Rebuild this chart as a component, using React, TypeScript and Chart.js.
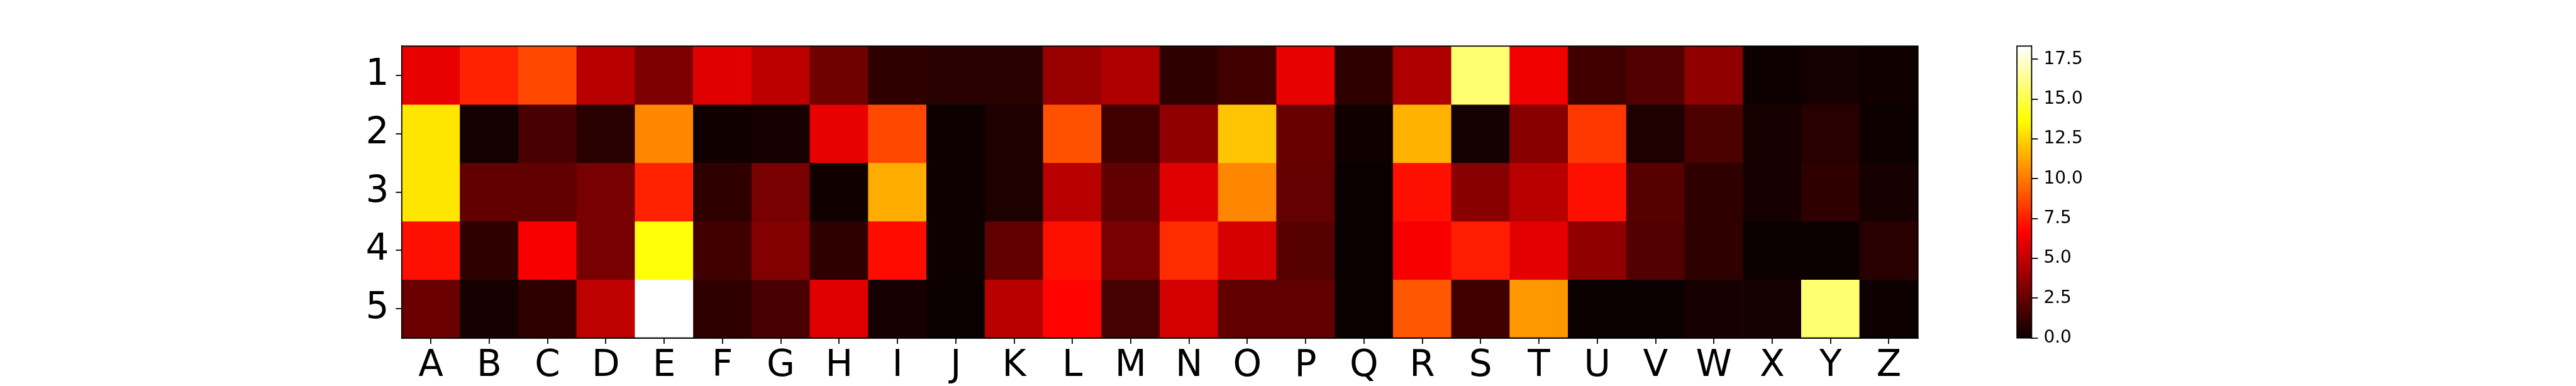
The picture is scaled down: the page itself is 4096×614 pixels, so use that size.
import React, { useEffect, useRef } from "react";
import { Chart, registerables } from "chart.js";

Chart.register(...registerables);

// ---- data ----
const xLabels = ["A", "B", "C", "D", "E", "F", "G", "H", "I", "J", "K", "L", "M", "N", "O", "P", "Q", "R", "S", "T", "U", "V", "W", "X", "Y", "Z"];
const rowLabels = ["1", "2", "3", "4", "5"];
const row1 = [6.1, 7.6, 8.7, 4.75, 3.2, 5.85, 4.85, 2.8, 1.0, 0.8, 0.8, 3.9, 4.5, 1.0, 1.5, 6.1, 1.0, 4.5, 15.7, 6.3, 1.5, 1.9, 3.65, 0.05, 0.25, 0.15];
const row2 = [13.0, 0.26, 1.7, 0.8, 10.4, 0.15, 0.35, 6.1, 8.7, 0.05, 0.5, 8.9, 1.5, 3.65, 12.1, 2.55, 0.15, 11.6, 0.26, 3.45, 8.2, 0.5, 1.8, 0.35, 0.8, 0.05];
const row3 = [13.0, 2.35, 2.35, 3.0, 7.6, 1.0, 3.0, 0.15, 11.4, 0.05, 0.5, 4.75, 2.35, 5.85, 10.4, 2.45, 0.0, 7.1, 3.45, 4.75, 7.1, 2.1, 1.0, 0.35, 1.0, 0.35];
const row4 = [7.1, 1.0, 6.5, 3.0, 13.8, 1.5, 3.3, 1.0, 7.0, 0.05, 2.35, 7.1, 3.0, 7.9, 5.6, 2.1, 0.0, 6.5, 7.45, 5.95, 3.65, 1.9, 1.0, 0.0, 0.0, 0.8];
const row5 = [2.65, 0.35, 1.0, 4.95, 18.33, 1.0, 1.7, 5.85, 0.35, 0.0, 4.75, 6.8, 1.6, 5.5, 2.35, 2.35, 0.0, 9.1, 1.5, 10.85, 0.0, 0.0, 0.35, 0.25, 15.7, 0.05];
const rows = [row1, row2, row3, row4, row5];
const colorbarTicks = [0, 2.5, 5, 7.5, 10, 12.5, 15, 17.5];
const vMin = 0;
const vMax = 18.33;

// ---- matplotlib "hot" colormap ----
const hotStops: [number, number, number, number][] = [
  [0, 0.0416, 0, 0],
  [0.365079, 1, 0, 0],
  [0.746032, 1, 1, 0],
  [1, 1, 1, 1],
];
function hotT(t: number): string {
  t = Math.min(1, Math.max(0, t));
  for (let i = 0; i < hotStops.length - 1; i++) {
    const a = hotStops[i];
    const b = hotStops[i + 1];
    if (t <= b[0]) {
      const f = (t - a[0]) / (b[0] - a[0]);
      const r = a[1] + (b[1] - a[1]) * f;
      const g = a[2] + (b[2] - a[2]) * f;
      const bl = a[3] + (b[3] - a[3]) * f;
      return `rgb(${Math.round(r * 255)},${Math.round(g * 255)},${Math.round(bl * 255)})`;
    }
  }
  return "rgb(255,255,255)";
}
function hot(v: number): string {
  return hotT((v - vMin) / (vMax - vMin));
}

const FONT = "'DejaVu Sans', 'Liberation Sans', sans-serif";
const LW = 1.8;

const framePlugin = {
  id: "frame",
  afterDatasetsDraw(chart: any) {
    const { ctx, chartArea: a } = chart;
    ctx.save();
    ctx.strokeStyle = "#000";
    ctx.lineWidth = LW;
    ctx.strokeRect(a.left, a.top, a.right - a.left, a.bottom - a.top);
    ctx.restore();
  },
};

export default function App() {
  const mainRef = useRef<HTMLCanvasElement>(null);
  const cbRef = useRef<HTMLCanvasElement>(null);

  useEffect(() => {
    document.body.style.margin = "0";
    const main = new Chart(mainRef.current!, {
      type: "bar",
      data: {
        labels: xLabels,
        datasets: rows.map((vals, r) => ({
          label: rowLabels[r],
          data: vals.map(() => [r + 0.5, r + 1.5]) as any,
          backgroundColor: vals.map(hot),
          borderWidth: 0,
          borderSkipped: false,
          barPercentage: 1,
          categoryPercentage: 1,
          grouped: false,
        })),
      },
      options: {
        animation: false,
        responsive: false,
        devicePixelRatio: 1,
        layout: { padding: { left: 0, top: 73.3, right: 250.3, bottom: 0 } },
        plugins: { legend: { display: false }, tooltip: { enabled: false } },
        scales: {
          x: {
            type: "category",
            offset: true,
            grid: { offset: false, drawOnChartArea: false, drawTicks: true, tickLength: 9.5, color: "#000", lineWidth: LW },
            border: { display: true, color: "#000", width: LW },
            ticks: { font: { family: FONT, size: 58, lineHeight: 1 }, color: "#000", padding: 7, maxRotation: 0, autoSkip: false },
            afterFit: (s: any) => { s.height = 76.4; },
          },
          y: {
            type: "linear",
            reverse: true,
            min: 0.5,
            max: 5.5,
            afterBuildTicks: (s: any) => { s.ticks = rowLabels.map((_, i) => ({ value: i + 1 })); },
            grid: { drawOnChartArea: false, drawTicks: true, tickLength: 9.5, color: "#000", lineWidth: LW },
            border: { display: true, color: "#000", width: LW },
            ticks: {
              font: { family: FONT, size: 58, lineHeight: 1 },
              color: "#000",
              padding: 11,
              callback: (_v: any, i: number) => rowLabels[i],
            },
            afterFit: (s: any) => { s.width = 638.8; },
          },
        },
      },
      plugins: [framePlugin],
    });

    const cb = new Chart(cbRef.current!, {
      type: "bar",
      data: {
        labels: [""],
        datasets: [{
          data: [[vMin, vMax]] as any,
          backgroundColor: (ctx: any) => {
            const area = ctx.chart.chartArea;
            if (!area) return "#000";
            const g = ctx.chart.ctx.createLinearGradient(0, area.bottom, 0, area.top);
            hotStops.forEach((s) => g.addColorStop(s[0], hotT(s[0])));
            return g;
          },
          borderWidth: 0,
          borderSkipped: false,
          barPercentage: 1,
          categoryPercentage: 1,
        }],
      },
      options: {
        animation: false,
        responsive: false,
        devicePixelRatio: 1,
        layout: { padding: { left: 107.1, top: 73.3, right: 119.6, bottom: 76.4 } },
        plugins: { legend: { display: false }, tooltip: { enabled: false } },
        scales: {
          x: { display: false, offset: true },
          y: {
            type: "linear",
            position: "right",
            min: vMin,
            max: vMax,
            afterBuildTicks: (s: any) => { s.ticks = colorbarTicks.map((v) => ({ value: v })); },
            grid: { drawOnChartArea: false, drawTicks: true, tickLength: 10, color: "#000", lineWidth: LW },
            border: { display: true, color: "#000", width: LW },
            ticks: {
              font: { family: FONT, size: 28, lineHeight: 1 },
              color: "#000",
              padding: 9,
              callback: (v: any) => Number(v).toFixed(1),
            },
            afterFit: (s: any) => { s.width = 150; },
          },
        },
      },
      plugins: [framePlugin],
    });

    return () => {
      main.destroy();
      cb.destroy();
    };
  }, []);

  return (
    <div style={{ position: "fixed", left: 0, top: 0, width: 4096, height: 614, background: "#fff" }}>
      <canvas ref={mainRef} width={3300} height={614} style={{ position: "absolute", left: 0, top: 0 }} />
      <canvas ref={cbRef} width={400} height={614} style={{ position: "absolute", left: 3100, top: 0 }} />
    </div>
  );
}
